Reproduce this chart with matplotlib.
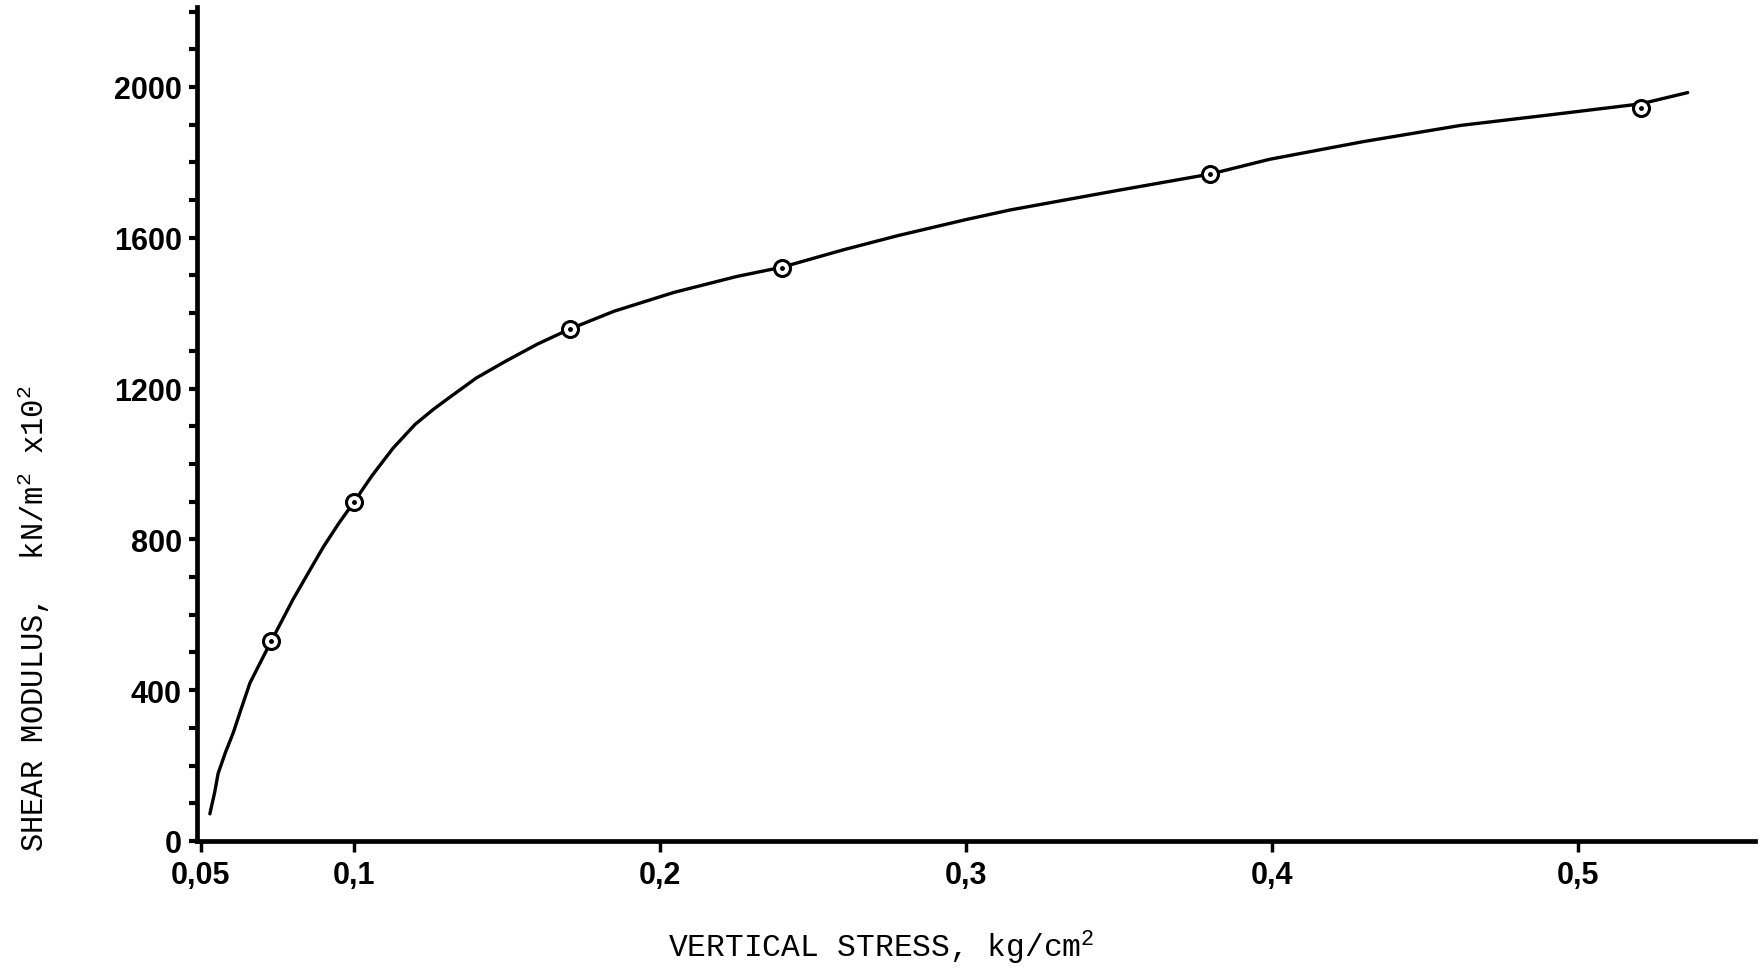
import matplotlib
matplotlib.use("Agg")
import matplotlib.pyplot as plt
from matplotlib.ticker import MultipleLocator, FixedLocator, FixedFormatter

# measured points (vertical stress kg/cm2, shear modulus kN/m2 x10^2)
stress_pts = [0.073, 0.100, 0.1706, 0.240, 0.380, 0.5206]
modulus_pts = [530, 899, 1358, 1520, 1769, 1945]

# hand-drawn fitted curve
curve_x = [0.0529, 0.0545, 0.0556, 0.0580, 0.0605, 0.0632, 0.0660, 0.0695,
           0.0729, 0.0765, 0.0801, 0.0850, 0.0900, 0.0950, 0.1000, 0.1060,
           0.1128, 0.1200, 0.1260, 0.1310, 0.1400, 0.1497, 0.1600, 0.1706,
           0.1850, 0.2046, 0.2250, 0.2400, 0.2600, 0.2780, 0.3000, 0.3147,
           0.3500, 0.3800, 0.3993, 0.4300, 0.4618, 0.4900, 0.5206, 0.5360]
curve_y = [72, 130, 179, 235, 286, 352, 419, 475,
           529, 585, 641, 710, 780, 842, 899, 970,
           1042, 1105, 1145, 1175, 1228, 1273, 1318, 1358,
           1405, 1455, 1497, 1522, 1568, 1606, 1648, 1674,
           1726, 1769, 1808, 1855, 1898, 1925, 1955, 1985]

xticks = [0.05, 0.1, 0.2, 0.3, 0.4, 0.5]
xticklabels = ["0,05", "0,1", "0,2", "0,3", "0,4", "0,5"]
yticks = [0, 400, 800, 1200, 1600, 2000]
yticklabels = ["0", "400", "800", "1200", "1600", "2000"]

plt.rcParams['mathtext.default'] = 'regular'

W, H = 1762, 970
fig = plt.figure(figsize=(W / 100, H / 100), dpi=100)
ax = fig.add_axes([197 / W, 1 - 842 / H, (1755 - 197) / W, (842 - 8) / H])

ax.plot(curve_x, curve_y, color="black", lw=2.4, solid_capstyle="round",
        solid_joinstyle="round", zorder=2)
ax.plot(stress_pts, modulus_pts, linestyle="none", marker="o", ms=11.5,
        mfc="white", mec="black", mew=2.2, zorder=3)
ax.plot(stress_pts, modulus_pts, linestyle="none", marker="o", ms=2.5,
        mfc="black", mec="black", zorder=4)

ax.set_xlim(0.0487, 0.558)
ax.set_ylim(0, 2212)

for side in ["top", "right"]:
    ax.spines[side].set_visible(False)
for side in ["left", "bottom"]:
    ax.spines[side].set_linewidth(3.4)

ax.xaxis.set_major_locator(FixedLocator(xticks))
ax.xaxis.set_major_formatter(FixedFormatter(xticklabels))
ax.yaxis.set_major_locator(FixedLocator(yticks))
ax.yaxis.set_major_formatter(FixedFormatter(yticklabels))
ax.yaxis.set_minor_locator(MultipleLocator(100))

ax.tick_params(axis="x", which="major", direction="out", length=8, width=2.5,
               pad=6, labelsize=22)
ax.tick_params(axis="y", which="major", direction="out", length=6, width=3,
               pad=5, labelsize=22)
ax.tick_params(axis="y", which="minor", direction="out", length=6, width=3)
for lbl in ax.get_xticklabels() + ax.get_yticklabels():
    lbl.set_fontfamily("Liberation Sans")
    lbl.set_fontweight("bold")

fig.text(668 / W, 1 - 958 / H, "VERTICAL STRESS, kg/cm$^{2}$",
         family="Liberation Mono", fontsize=22.5, ha="left", va="baseline")
fig.text(34 / W, 1 - 619 / H, "SHEAR MODULUS,  kN/m$^{2}$ x10$^{2}$",
         family="Liberation Mono", fontsize=22, ha="center", va="center",
         rotation=90)

fig.savefig("out.png", dpi=100, facecolor="white")
